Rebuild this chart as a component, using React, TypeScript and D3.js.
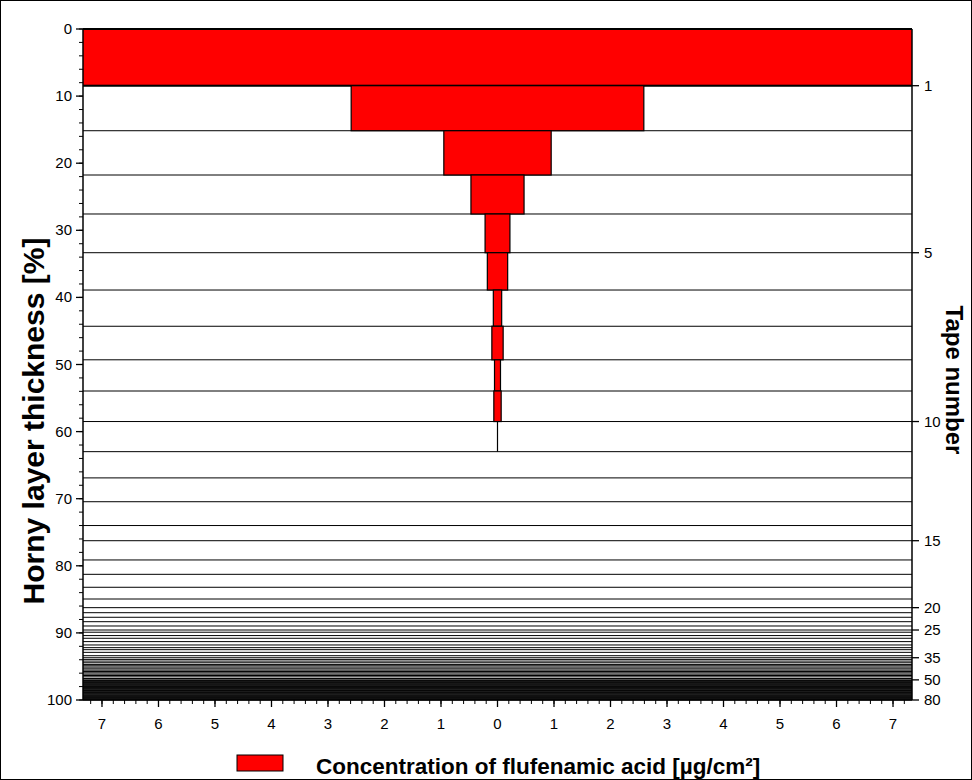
import React from "react";
import * as d3 from "d3";

// Cumulative horny layer thickness [%] at the end of each tape (tapes 1..80)
const tapeBoundaries: number[] = [
  8.45, 15.16, 21.76, 27.57, 33.34, 38.9, 44.3, 49.3, 53.95, 58.5,
  62.99, 66.9, 70.45, 74.0, 76.26, 79.13, 81.27, 83.2, 84.95, 86.24,
  86.99, 87.67, 88.33, 88.97, 89.57, 89.9, 90.4, 90.8, 91.3, 91.8,
  92.2, 92.5, 92.9, 93.4, 93.7, 93.95, 94.2, 94.45, 94.7, 94.9,
  95.1, 95.35, 95.55, 95.75, 95.95, 96.15, 96.35, 96.55, 96.8, 97.0,
  97.08, 97.2, 97.29, 97.41, 97.5, 97.6, 97.72, 97.8, 97.91, 98.0,
  98.12, 98.2, 98.31, 98.4, 98.52, 98.6, 98.7, 98.81, 98.9, 99.0,
  99.1, 99.22, 99.3, 99.4, 99.5, 99.61, 99.7, 99.8, 99.9, 100,
];

// Concentration of flufenamic acid [µg/cm²] per tape (tapes 1..11)
const concentrations: number[] = [7.6, 2.59, 0.95, 0.47, 0.22, 0.18, 0.074, 0.1, 0.053, 0.065, 0];

const xTickValues: number[] = [-7, -6, -5, -4, -3, -2, -1, 0, 1, 2, 3, 4, 5, 6, 7];
const yTickValues: number[] = [0, 10, 20, 30, 40, 50, 60, 70, 80, 90, 100];
const tapeTickValues: number[] = [1, 5, 10, 15, 20, 25, 35, 50, 80];

const W = 972;
const H = 780;
const L = 83;
const R = 912;
const T = 29;
const B = 700;
const FONT = "'Liberation Sans', Arial, sans-serif";

export default function App() {
  const x = d3.scaleLinear().domain([-7.336, 7.336]).range([L, R]);
  const y = d3.scaleLinear().domain([0, 100]).range([T, B]);

  const xMinor = d3.range(-72, 73, 2).map((v) => v / 10);
  const yMinor = d3.range(0, 101, 2);

  return (
    <svg width={W} height={H} style={{ position: "absolute", left: 0, top: 0, background: "#fff" }} fontFamily={FONT}>
      <rect x={0.5} y={0.5} width={W - 1} height={H - 1} fill="#fff" stroke="#000" strokeWidth={1} />
      <defs>
        <clipPath id="plotClip">
          <rect x={L} y={T - 2} width={R - L} height={B - T + 4} />
        </clipPath>
      </defs>

      {/* tape boundary lines */}
      <g stroke="#000" strokeWidth={1}>
        {tapeBoundaries.map((b, i) => (
          <line key={i} x1={L} x2={R} y1={y(b)} y2={y(b)} />
        ))}
      </g>

      {/* bars */}
      <g clipPath="url(#plotClip)">
        {concentrations.map((v, i) => {
          const top = i === 0 ? 0 : tapeBoundaries[i - 1];
          const bot = tapeBoundaries[i];
          if (v === 0) {
            return <line key={i} x1={x(0)} x2={x(0)} y1={y(top)} y2={y(bot)} stroke="#000" strokeWidth={1.2} />;
          }
          return (
            <rect
              key={i}
              x={x(-v)}
              y={y(top)}
              width={x(v) - x(-v)}
              height={y(bot) - y(top)}
              fill="#ff0000"
              stroke="#000"
              strokeWidth={i === 0 ? 2 : 1.2}
            />
          );
        })}
      </g>

      {/* axes lines */}
      <g stroke="#000" strokeWidth={1.5}>
        <line x1={L} x2={L} y1={T} y2={B} />
        <line x1={R} x2={R} y1={T} y2={B} />
        <line x1={L} x2={R} y1={B} y2={B} />
      </g>

      {/* bottom axis ticks */}
      <g stroke="#000" strokeWidth={1}>
        {xMinor.map((v, i) => (
          <line key={"xm" + i} x1={x(v)} x2={x(v)} y1={B} y2={B + 4} />
        ))}
        {xTickValues.map((v) => (
          <line key={"xM" + v} x1={x(v)} x2={x(v)} y1={B} y2={B + 7} strokeWidth={1.3} />
        ))}
      </g>
      <g fontSize={15} textAnchor="middle" fill="#000">
        {xTickValues.map((v) => (
          <text key={"xl" + v} x={x(v)} y={B + 29}>
            {Math.abs(v)}
          </text>
        ))}
      </g>

      {/* left axis ticks */}
      <g stroke="#000" strokeWidth={1}>
        {yMinor.map((v) => (
          <line key={"ym" + v} x1={L - 4} x2={L} y1={y(v)} y2={y(v)} />
        ))}
        {yTickValues.map((v) => (
          <line key={"yM" + v} x1={L - 7} x2={L} y1={y(v)} y2={y(v)} strokeWidth={1.3} />
        ))}
      </g>
      <g fontSize={15} textAnchor="end" fill="#000">
        {yTickValues.map((v) => (
          <text key={"yl" + v} x={L - 11} y={y(v) + 5}>
            {v}
          </text>
        ))}
      </g>

      {/* right axis (tape number) */}
      <g stroke="#000" strokeWidth={1.3}>
        {tapeTickValues.map((t) => (
          <line key={"tt" + t} x1={R} x2={R + 7} y1={y(tapeBoundaries[t - 1])} y2={y(tapeBoundaries[t - 1])} />
        ))}
      </g>
      <g fontSize={15} textAnchor="start" fill="#000">
        {tapeTickValues.map((t) => (
          <text key={"tl" + t} x={R + 12} y={y(tapeBoundaries[t - 1]) + 5}>
            {t}
          </text>
        ))}
      </g>

      {/* axis titles */}
      <text
        transform={`translate(44, 421) rotate(-90)`}
        textAnchor="middle"
        fontSize={30}
        fontWeight="bold"
      >
        Horny layer thickness [%]
      </text>
      <text
        transform={`translate(946, 380) rotate(90)`}
        textAnchor="middle"
        fontSize={24}
        fontWeight="bold"
      >
        Tape number
      </text>

      {/* legend */}
      <rect x={237} y={755} width={46} height={16} fill="#ff0000" stroke="#000" strokeWidth={1} />
      <text x={316} y={774} fontSize={22.5} fontWeight="bold">
        Concentration of flufenamic acid [µg/cm²]
      </text>
    </svg>
  );
}
